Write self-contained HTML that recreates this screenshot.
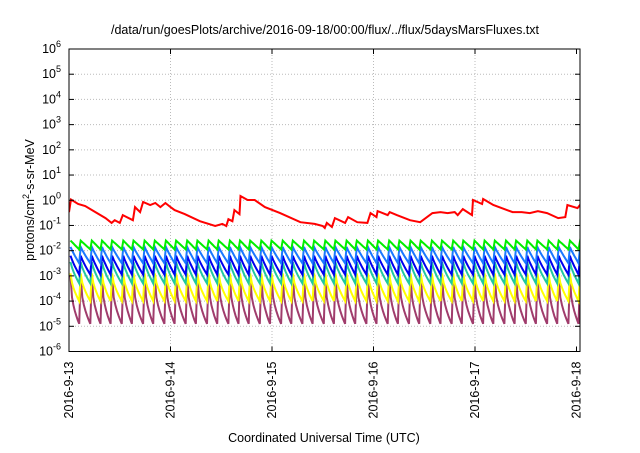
<!DOCTYPE html>
<html><head><meta charset="utf-8"><style>
body{margin:0;background:#fff;}
svg text{font-family:"Liberation Sans",sans-serif;fill:#000;}
</style></head><body>
<svg id="chart" width="640" height="448" viewBox="0 0 640 448" xmlns="http://www.w3.org/2000/svg">
<rect width="640" height="448" fill="#fff"/>
<text x="325" y="34" font-size="12.5" text-anchor="middle">/data/run/goesPlots/archive/2016-09-18/00:00/flux/../flux/5daysMarsFluxes.txt</text>
<text x="324" y="442" font-size="12.5" text-anchor="middle">Coordinated Universal Time (UTC)</text>
<text transform="translate(34,200) rotate(-90)" font-size="12.5" text-anchor="middle">protons/cm<tspan dy="-5" font-size="9">2</tspan><tspan dy="5">-s-sr-MeV</tspan></text>
<g id="grid"></g><g id="series"></g><g id="axes"></g>
</svg>
<script>
const xTickLabels=["2016-9-13","2016-9-14","2016-9-15","2016-9-16","2016-9-17","2016-9-18"];
const yTickExps=[-6,-5,-4,-3,-2,-1,0,1,2,3,4,5,6];
const redDays=[0,0.02,0.09,0.16,0.26,0.36,0.42,0.45,0.50,0.53,0.63,0.65,0.70,0.73,0.80,0.85,0.90,0.95,1.00,1.04,1.14,1.29,1.44,1.51,1.55,1.57,1.61,1.63,1.68,1.69,1.76,1.83,1.93,2.08,2.28,2.42,2.50,2.52,2.54,2.59,2.62,2.72,2.75,2.84,2.94,2.97,3.03,3.04,3.14,3.16,3.23,3.36,3.46,3.58,3.66,3.73,3.80,3.83,3.88,3.97,3.98,4.07,4.08,4.18,4.37,4.46,4.54,4.62,4.71,4.82,4.89,4.91,5.01,5.05];
const redLog=[-0.47,0.03,-0.15,-0.23,-0.47,-0.71,-0.90,-0.79,-0.90,-0.59,-0.79,-0.27,-0.47,-0.07,-0.19,-0.11,-0.27,-0.11,-0.27,-0.39,-0.55,-0.83,-1.02,-0.94,-1.02,-0.75,-0.83,-0.39,-0.55,0.17,0.01,0.01,-0.27,-0.51,-0.87,-0.94,-1.02,-1.10,-0.90,-1.06,-0.71,-0.90,-0.67,-0.87,-0.90,-0.51,-0.67,-0.43,-0.59,-0.47,-0.59,-0.79,-0.87,-0.51,-0.47,-0.51,-0.47,-0.59,-0.35,-0.59,0.01,-0.15,0.05,-0.19,-0.47,-0.47,-0.51,-0.43,-0.51,-0.71,-0.67,-0.19,-0.31,-0.11];
const injectDays=[0.00,0.10,0.21,0.31,0.41,0.52,0.62,0.73,0.83,0.94,1.04,1.15,1.25,1.36,1.46,1.57,1.67,1.77,1.88,1.98,2.09,2.19,2.30,2.40,2.51,2.61,2.72,2.82,2.93,3.03,3.14,3.24,3.35,3.45,3.56,3.66,3.77,3.87,3.98,4.08,4.18,4.29,4.39,4.50,4.60,4.71,4.81,4.92,5.02];
const seriesNames=["green","light-blue","blue","teal","yellow","purple"];
const seriesColors=["#00ee00","#1a78ff","#0000f0","#20c8a0","#ffff00","#a03c6c"];
const peakLog=[-1.6,-1.85,-2.2,-2.45,-2.9,-3.0];
const troughLog=[-1.95,-2.5,-2.95,-3.3,-4.0,-4.9];

const decayPow=[1,0.9,0.85,0.75,0.6,0.45];
const L=69,R=580,T=49,B=351.5,dayW=101.5;
const xs=d=>L+d*dayW;
const ys=lg=>T+(6-lg)*(B-T)/12;
const NS="http://www.w3.org/2000/svg";
function mk(tag,parent){const e=document.createElementNS(NS,tag);parent.appendChild(e);return e;}
const grid=document.getElementById('grid'),axes=document.getElementById('axes'),ser=document.getElementById('series');
yTickExps.forEach(e=>{
  const y=ys(e);
  if(e>-6&&e<6){const g=mk('line',grid);
    
    
    g.setAttribute('x1',L);g.setAttribute('x2',R);g.setAttribute('y1',y);g.setAttribute('y2',y);g.setAttribute('stroke','#bbb');g.setAttribute('stroke-dasharray','1,2');}
  [[L,L+5],[R,R-5]].forEach(p=>{const t=mk('line',axes);t.setAttribute('x1',p[0]);t.setAttribute('x2',p[1]);t.setAttribute('y1',y);t.setAttribute('y2',y);t.setAttribute('stroke','#000');});
  const tx=mk('text',axes);
  
  
  tx.setAttribute('x',L-8);tx.setAttribute('y',y+4);tx.setAttribute('text-anchor','end');tx.setAttribute('font-size','12.5');
  tx.innerHTML='10<tspan dy="-6" font-size="9">'+e+'</tspan>';
});
xTickLabels.forEach((lab,i)=>{
  const x=xs(i);
  if(i>0&&i<5){const g=mk('line',grid);
    
    
    g.setAttribute('x1',x);g.setAttribute('x2',x);g.setAttribute('y1',T);g.setAttribute('y2',B);g.setAttribute('stroke','#bbb');g.setAttribute('stroke-dasharray','1,2');}
  [[B,B-5],[T,T+5]].forEach(p=>{const t=mk('line',axes);t.setAttribute('x1',x);t.setAttribute('x2',x);t.setAttribute('y1',p[0]);t.setAttribute('y2',p[1]);t.setAttribute('stroke','#000');});
  const tx=mk('text',axes);
  
  
  tx.setAttribute('transform','translate('+(x+4)+','+(B+10)+') rotate(-90)');tx.setAttribute('text-anchor','end');tx.setAttribute('font-size','12.5');
  tx.textContent=lab;
});
const box=mk('rect',axes);


box.setAttribute('x',L);box.setAttribute('y',T);box.setAttribute('width',R-L);box.setAttribute('height',B-T);box.setAttribute('fill','none');box.setAttribute('stroke','#000');
const cp=mk('clipPath',ser);cp.setAttribute('id','clip');const cr=mk('rect',cp);cr.setAttribute('x',L);cr.setAttribute('y',T);cr.setAttribute('width',R-L);cr.setAttribute('height',B-T);
for(let s=seriesNames.length-1;s>=0;s--){
  let pts=[];
  for(let i=0;i<injectDays.length;i++){
    const t0=injectDays[i],t1=i+1<injectDays.length?injectDays[i+1]:t0+0.1;
    pts.push([xs(t0+0.015),ys(peakLog[s])]);
    for(let k=1;k<=6;k++){const f=k/6;const t=t0+0.015+(t1-t0-0.015)*f;
      pts.push([xs(t),ys(peakLog[s]-(peakLog[s]-troughLog[s])*Math.pow(f,decayPow[s]))]);}
  }
  const pl=mk('polyline',ser);
  
  
  pl.setAttribute('points',pts.map(p=>p[0].toFixed(1)+','+p[1].toFixed(1)).join(' '));
  pl.setAttribute('fill','none');pl.setAttribute('stroke',seriesColors[s]);pl.setAttribute('stroke-width','2');pl.setAttribute('clip-path','url(#clip)');
}
const red=mk('polyline',ser);


red.setAttribute('points',redDays.map((d,i)=>xs(d).toFixed(1)+','+ys(redLog[i]).toFixed(1)).join(' '));
red.setAttribute('fill','none');red.setAttribute('stroke','#ff0000');red.setAttribute('stroke-width','2');red.setAttribute('clip-path','url(#clip)');
</script>
</body></html>
